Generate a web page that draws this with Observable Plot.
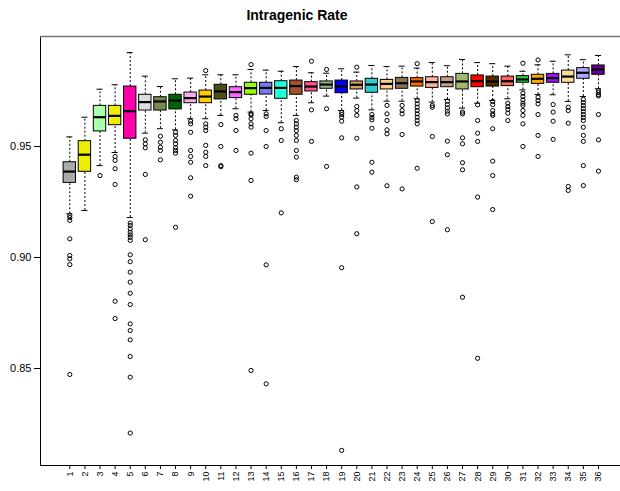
<!DOCTYPE html>
<html>
<head>
<meta charset="utf-8">
<script src="https://cdn.jsdelivr.net/npm/d3@7"></script>
<script src="https://cdn.jsdelivr.net/npm/@observablehq/plot@0.6"></script>
<style>
  body { margin: 0; background: #fff; font-family: "Liberation Sans", Arial, Helvetica, sans-serif; }
  #title { width: 594px; height: 30px; line-height: 30px; text-align: center; font-weight: bold; font-size: 14px; color: #000; }
  #chart svg { display: block; }
</style>
</head>
<body>
<div id="title">Intragenic Rate</div>
<div id="chart"></div>
<script>
// Sample labels along the x axis
const boxLabels = ["1","2","3","4","5","6","7","8","9","10","11","12","13","14","15","16","17","18",
  "19","20","21","22","23","24","25","26","27","28","29","30","31","32","33","34","35","36"];

// Box fill colours, one per sample
const boxColors = ["#aaaaaa","#eeee00","#aaffaa","#eeee00","#ff00aa","#dddddd","#768c4e","#006400",
  "#ffaaee","#ffcc00","#4d4d1a","#ff66ff","#99ff00","#7777ee","#22ffdd","#a0522d","#ff5588","#99bb88",
  "#0000ee","#d4a060","#33cccc","#ffcc88","#8b7355","#ff6600","#ffb0a0","#c49c8c","#a2b86c","#ff0000",
  "#5c2a00","#ff6060","#33cc33","#ffa500","#9a10f0","#ffdd99","#aaaaff","#660099"];

// Five-number summaries of the intragenic rate
const lowerWhisker = [0.9197,0.9212,0.9414,0.9473,0.918,0.956,0.958,0.9575,0.9625,0.9625,0.964,0.967,
  0.9655,0.9662,0.9607,0.964,0.9697,0.9727,0.9662,0.9718,0.9665,0.9704,0.9704,0.9715,0.97,0.9712,
  0.9673,0.9695,0.9707,0.9715,0.9755,0.9734,0.9733,0.9703,0.9725,0.976];
const lowerQuartile = [0.9336,0.9386,0.9568,0.9596,0.9535,0.9662,0.9662,0.9667,0.9695,0.9695,0.9712,
  0.9718,0.9733,0.9734,0.9715,0.9733,0.9748,0.976,0.974,0.9757,0.9742,0.9757,0.976,0.977,0.9764,
  0.9767,0.9757,0.9767,0.977,0.9772,0.9787,0.9782,0.9787,0.9787,0.9805,0.9823];
const medians = [0.9387,0.9463,0.9632,0.9638,0.9659,0.97,0.9703,0.9707,0.9718,0.9725,0.9748,0.9745,
  0.9763,0.9764,0.9764,0.9772,0.977,0.9779,0.977,0.9778,0.9779,0.9782,0.9785,0.9793,0.979,0.979,
  0.9793,0.9794,0.9793,0.9794,0.9802,0.9805,0.9808,0.9815,0.9832,0.9847];
const upperQuartile = [0.9429,0.9524,0.9683,0.9683,0.977,0.9733,0.9722,0.9733,0.9743,0.9752,0.9778,
  0.9767,0.9787,0.9787,0.9794,0.9797,0.979,0.9793,0.9797,0.9793,0.9805,0.98,0.9809,0.9808,0.9812,
  0.9812,0.9827,0.982,0.9815,0.9815,0.9817,0.9823,0.9827,0.9842,0.9853,0.9865];
const upperWhisker = [0.9543,0.9632,0.9758,0.9778,0.9923,0.9817,0.977,0.9805,0.9808,0.9823,0.9823,
  0.9823,0.9847,0.9844,0.9839,0.986,0.9832,0.983,0.985,0.9835,0.9865,0.986,0.9862,0.9853,0.9878,
  0.9864,0.9892,0.9878,0.9873,0.9862,0.9839,0.9868,0.9884,0.9913,0.9891,0.991];

// Points beyond the whiskers
const outliers = [
  [0.9189,0.918,0.9167,0.9084,0.9009,0.8994,0.8968,0.8473],
  [],
  [0.9369],
  [0.9455,0.9437,0.94,0.9329,0.8803,0.8725],
  [0.9155,0.9144,0.9129,0.9114,0.9102,0.9091,0.9077,0.9012,0.8981,0.8934,0.8889,0.8839,0.8788,0.8701,0.8671,0.8629,0.8554,0.8461,0.8209],
  [0.953,0.9512,0.9494,0.9374,0.908],
  [0.9546,0.9519,0.9497,0.9482,0.944],
  [0.9564,0.955,0.9527,0.9512,0.9494,0.9482,0.947,0.9136],
  [0.9614,0.9602,0.9564,0.9482,0.9455,0.9429,0.9359,0.9276],
  [0.9842,0.9602,0.9587,0.9572,0.9505,0.9474,0.9455,0.9414],
  [0.9599,0.95,0.9414,0.9409],
  [0.964,0.9625,0.9572,0.9482],
  [0.9869,0.9647,0.9642,0.9625,0.9602,0.9587,0.947,0.9347,0.8491],
  [0.9647,0.9635,0.9572,0.95,0.8967,0.8431],
  [0.958,0.9527,0.9201],
  [0.9617,0.9602,0.9587,0.9572,0.955,0.9527,0.9482,0.9452,0.9362,0.935],
  [0.9884,0.9665,0.9523],
  [0.9847,0.967,0.941],
  [0.9653,0.9644,0.9632,0.9614,0.9539,0.8954,0.8131],
  [0.9857,0.968,0.9662,0.964,0.9537,0.9318,0.9107],
  [0.9644,0.9631,0.962,0.9582,0.9429,0.9384],
  [0.9685,0.9647,0.9617,0.9575,0.9557,0.9323],
  [0.9685,0.9662,0.9647,0.9554,0.9309],
  [0.9873,0.9707,0.9692,0.9677,0.9662,0.9647,0.9632,0.9617,0.9602,0.9402],
  [0.9685,0.9677,0.9545,0.9162],
  [0.9704,0.9689,0.9674,0.9659,0.9647,0.9524,0.9463,0.9125],
  [0.9655,0.9647,0.9539,0.9512,0.9427,0.9395,0.8821],
  [0.9688,0.9617,0.956,0.9523,0.9272,0.8546],
  [0.9703,0.9689,0.9662,0.9647,0.964,0.958,0.9434,0.9369,0.9216],
  [0.9695,0.968,0.9667,0.965,0.9617],
  [0.9875,0.974,0.9725,0.971,0.9695,0.9685,0.9662,0.964,0.9602,0.95],
  [0.989,0.9722,0.9707,0.9692,0.9644,0.955,0.9455],
  [0.9689,0.9655,0.9614,0.9532],
  [0.9677,0.9662,0.9605,0.932,0.9302],
  [0.9712,0.9698,0.9685,0.9671,0.9658,0.9644,0.9631,0.9617,0.9587,0.955,0.9523,0.9414,0.9324],
  [0.9752,0.9743,0.9734,0.9728,0.9644,0.953,0.9389]
];

// Y axis tick values
const yTicks = [0.85, 0.90, 0.95];

// One row per box; position is the 1-based slot along the axis
const boxes = boxLabels.map((label, i) => ({
  pos: i + 1,
  label,
  color: boxColors[i],
  lo: lowerWhisker[i],
  q1: lowerQuartile[i],
  med: medians[i],
  q3: upperQuartile[i],
  hi: upperWhisker[i]
}));
const outlierRows = boxes.flatMap((b, i) => outliers[i].map(v => ({pos: b.pos, value: v})));

const xDomain = [-0.94, 37.46];
const yDomain = [0.8063, 0.99955];
const halfBox = 0.41;
const halfCap = 0.2;

const chart = Plot.plot({
  width: 620,
  height: 461,
  marginTop: 6,
  marginBottom: 26,
  marginLeft: 40,
  marginRight: 0,
  style: {fontFamily: "'Liberation Sans', Arial, Helvetica, sans-serif", background: "#fff", color: "#000"},
  x: {type: "linear", domain: xDomain, axis: null},
  y: {domain: yDomain, axis: null},
  color: {type: "identity"},
  marks: [
    // plot frame: left, bottom and top edges
    Plot.ruleX([xDomain[0]], {stroke: "#000", strokeWidth: 1}),
    Plot.ruleY([yDomain[0]], {stroke: "#000", strokeWidth: 1}),
    Plot.ruleY([yDomain[1]], {stroke: "#777", strokeWidth: 1.5}),
    Plot.axisY({ticks: yTicks, tickFormat: d3.format(".2f"), tickSize: 6, tickPadding: 3, fontSize: 11, label: null}),
    Plot.axisX({
      ticks: boxes.map(d => d.pos),
      tickFormat: d => boxLabels[d - 1],
      tickRotate: -90,
      tickSize: 4,
      tickPadding: 2,
      fontSize: 9,
      label: null
    }),
    // dashed whiskers
    Plot.ruleX(boxes, {x: "pos", y1: "q3", y2: "hi", stroke: "#000", strokeWidth: 1, strokeDasharray: "2,2"}),
    Plot.ruleX(boxes, {x: "pos", y1: "lo", y2: "q1", stroke: "#000", strokeWidth: 1, strokeDasharray: "2,2"}),
    // whisker caps
    Plot.ruleY(boxes, {y: "hi", x1: d => d.pos - halfCap, x2: d => d.pos + halfCap, stroke: "#000", strokeWidth: 1}),
    Plot.ruleY(boxes, {y: "lo", x1: d => d.pos - halfCap, x2: d => d.pos + halfCap, stroke: "#000", strokeWidth: 1}),
    // interquartile boxes
    Plot.rect(boxes, {x1: d => d.pos - halfBox, x2: d => d.pos + halfBox, y1: "q1", y2: "q3",
      fill: "color", stroke: "#000", strokeWidth: 1}),
    // medians
    Plot.ruleY(boxes, {y: "med", x1: d => d.pos - halfBox, x2: d => d.pos + halfBox, stroke: "#000", strokeWidth: 2.2}),
    // outliers
    Plot.dot(outlierRows, {x: "pos", y: "value", r: 2.1, stroke: "#000", fill: "none", strokeWidth: 1})
  ]
});

document.getElementById("chart").append(chart);
</script>
</body>
</html>
